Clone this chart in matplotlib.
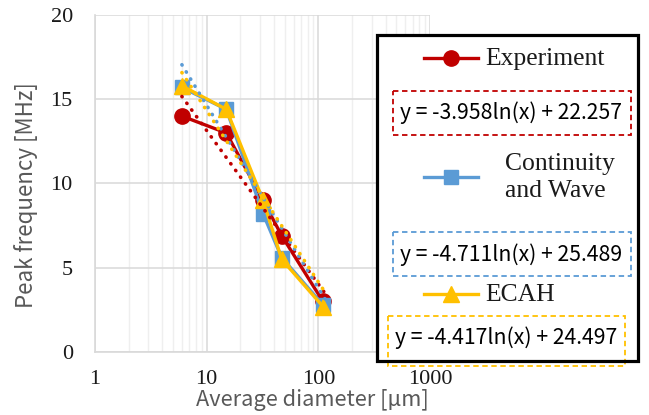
import numpy as np
import matplotlib
matplotlib.use("Agg")
import matplotlib.pyplot as plt
from matplotlib.lines import Line2D
from matplotlib.patches import Rectangle
from matplotlib.ticker import FixedLocator, NullFormatter

# ---------------- data ----------------
diam_exp = [6, 15, 32, 47, 110]
freq_exp = [14.0, 13.0, 9.0, 6.9, 3.0]

diam_cw = [6, 15, 32, 47, 110]
freq_cw = [15.7, 14.4, 8.2, 5.6, 2.8]

diam_ecah = [6, 15, 32, 47, 110]
freq_ecah = [15.8, 14.4, 9.0, 5.5, 2.7]

series_names = ["Experiment", "Continuity\nand Wave", "ECAH"]
trend_slope = [-3.958, -4.711, -4.417]
trend_icept = [22.257, 25.489, 24.497]
trend_text = ["y = -3.958ln(x) + 22.257",
              "y = -4.711ln(x) + 25.489",
              "y = -4.417ln(x) + 24.497"]

x_ticks = [1, 10, 100, 1000]
x_ticklabels = ["1", "10", "100", "1000"]
y_ticks = [0, 5, 10, 15, 20]

# ---------------- style ----------------
RED = "#C00000"
BLUE = "#5B9BD5"
YEL = "#FFC000"
colors = [RED, BLUE, YEL]
markers = ["o", "s", "^"]
msizes = [11, 10.5, 12]

W, H = 649, 415
fig = plt.figure(figsize=(W / 100, H / 100), dpi=100)
ax = fig.add_axes([95 / W, 1 - 352 / H, (430 - 95) / W, (352 - 15) / H])
renderer = fig.canvas.get_renderer()


def fit(t, target, vertical=False):
    bb = t.get_window_extent(renderer)
    w = bb.height if vertical else bb.width
    t.set_fontsize(t.get_fontsize() * target / w)


ax.set_xscale("log")
ax.set_xlim(1, 1000)
ax.set_ylim(0, 20)

# grid
ax.xaxis.set_major_locator(FixedLocator(x_ticks))
ax.xaxis.set_minor_locator(FixedLocator([m * d for d in (1, 10, 100) for m in range(2, 10)]))
ax.xaxis.set_minor_formatter(NullFormatter())
ax.set_yticks(y_ticks)
ax.grid(True, which="major", color="#D9D9D9", lw=1.1)
ax.grid(True, which="minor", axis="x", color="#EFEFEF", lw=1.0)
ax.set_axisbelow(True)
for s in ["top", "right"]:
    ax.spines[s].set_visible(False)
for s in ["left", "bottom"]:
    ax.spines[s].set_color("#D9D9D9")
    ax.spines[s].set_linewidth(1.2)
ax.tick_params(which="both", length=0)
ax.set_xticklabels(x_ticklabels)
serif = "Liberation Serif"
sans = ["Noto Sans CJK JP", "DejaVu Sans"]
for lab in ax.get_xticklabels() + ax.get_yticklabels():
    lab.set_fontfamily(serif)
    lab.set_fontsize(16)
    lab.set_color("#1a1a1a")
ax.tick_params(axis="x", pad=13)
ax.tick_params(axis="y", pad=16)

# series
datasets = [(diam_exp, freq_exp), (diam_cw, freq_cw), (diam_ecah, freq_ecah)]
for (xd, yd), c, m, ms, a, b in zip(datasets, colors, markers, msizes, trend_slope, trend_icept):
    ax.plot(xd, yd, color=c, lw=2.4, marker=m, ms=ms, zorder=3)
    xt = np.linspace(min(xd), max(xd) * 1.04, 60)
    ax.plot(xt, a * np.log(xt) + b, color=c, lw=2.6, ls=(0, (0.1, 2.2)),
            dash_capstyle="round", zorder=4)

ylab = fig.text(26 / W, 1 - 195 / H, "Peak frequency [MHz]", fontfamily=sans, fontsize=15,
                color="#595959", ha="center", va="center", rotation=90)
fit(ylab, 227, vertical=True)
xlab = fig.text(312 / W, 1 - 400 / H, "Average diameter [µm]", fontfamily=sans, fontsize=15,
                color="#595959", ha="center", va="center")
fit(xlab, 233)

# ---------------- legend (pixel overlay) ----------------
ov = fig.add_axes([0, 0, 1, 1], zorder=10)
ov.set_xlim(0, W)
ov.set_ylim(H, 0)
ov.axis("off")
ov.patch.set_alpha(0)

ov.add_patch(Rectangle((377, 35), 261, 326, facecolor="white", edgecolor="none", zorder=1))

handle_y = [57.7, 176.7, 294]
text_x = [485, 505, 485]
for hy, c, m, ms, name, tx in zip(handle_y, colors, markers, msizes, series_names, text_x):
    ov.add_line(Line2D([424, 478], [hy, hy], color=c, lw=2.4, zorder=3))
    ov.add_line(Line2D([451], [hy], color=c, marker=m, ms=ms, zorder=3))
    t = ov.text(tx, hy + 1, name, fontfamily=serif, fontsize=18, color="#1a1a1a",
                ha="left", va="center", linespacing=1.3, zorder=3)
    if name == "Experiment":
        fit(t, 120)
        leg_fs = t.get_fontsize()
for t in ov.texts:
    t.set_fontsize(leg_fs)

boxes = [(392.5, 90.7, 238, 44.3), (393, 232, 238, 44), (388, 315.7, 237, 50)]
eq_y = [113, 255, 338]
eq_x = [511.5, 511.5, 506]
for (bx, by, bw, bh), c, ey, ex, txt in zip(boxes, colors, eq_y, eq_x, trend_text):
    ov.add_patch(Rectangle((bx, by), bw, bh, facecolor="white", edgecolor=c, lw=1.3,
                           ls=(0, (3, 2)), zorder=2))
    t = ov.text(ex, ey, txt, fontfamily=sans, fontsize=15.5, color="black",
                ha="center", va="center", zorder=3)
    fit(t, 223)

ov.add_patch(Rectangle((377, 35), 261, 326, facecolor="none", edgecolor="black",
                       lw=2.3, zorder=5))

fig.savefig("out.png", dpi=100)
